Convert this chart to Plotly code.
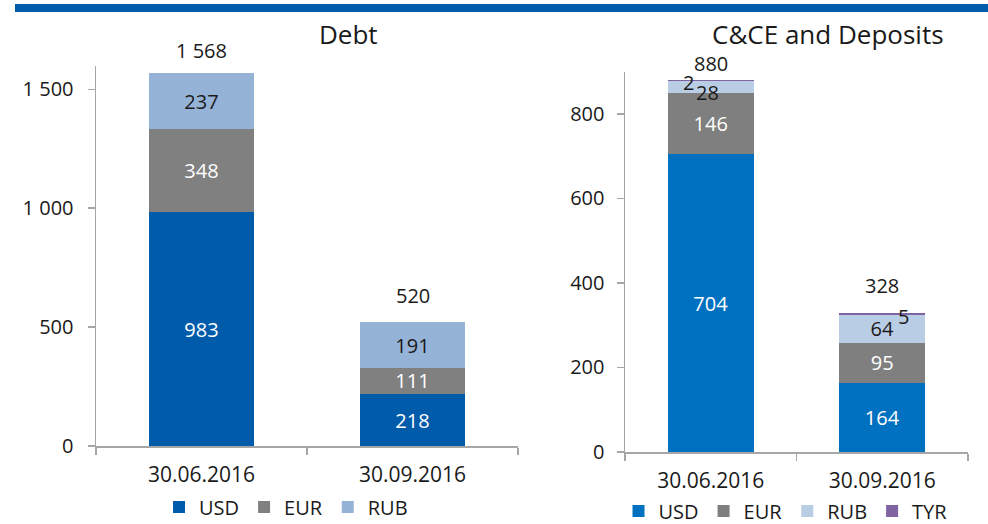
import plotly.graph_objects as go

# ---------------- data ----------------
categories = ["30.06.2016", "30.09.2016"]

debt_usd = [983, 218]
debt_eur = [348, 111]
debt_rub = [237, 191]

cce_usd = [704, 164]
cce_eur = [146, 95]
cce_rub = [28, 64]
cce_tyr = [2, 5]

debt_tickvals = [0, 500, 1000, 1500]
debt_ticktext = ["0", "500", "1 000", "1 500"]
cce_tickvals = [0, 200, 400, 600, 800]
cce_ticktext = ["0", "200", "400", "600", "800"]

titles = ["Debt", "C&CE and Deposits"]

# ---------------- styling ----------------
W, H = 988, 524
FONT = "Open Sans"
FS = 20
AXIS_COL = "#A6A6A6"
TXT = "#1A1A1A"

C_DEBT = {"USD": "#005BAA", "EUR": "#808080", "RUB": "#95B3D7"}
C_CCE = {"USD": "#0070C0", "EUR": "#7F7F7F", "RUB": "#B9CDE5", "TYR": "#8064A2"}


def fmt(v):
    return f"{v:,}".replace(",", " ")


def px_x(x):
    return x / W


def px_y(y):
    return 1 - y / H


fig = go.Figure()


def add_bar(name, vals, color, xa, ya, leg, txtcolor, show_text=None):
    if show_text is None:
        show_text = [True] * len(vals)
    fig.add_trace(go.Bar(
        name=name, x=categories, y=vals,
        marker=dict(color=color, line=dict(width=0)),
        text=[fmt(v) if s else "" for v, s in zip(vals, show_text)],
        textposition="inside", insidetextanchor="middle", textangle=0,
        constraintext="none",
        insidetextfont=dict(family=FONT, size=FS, color=txtcolor),
        xaxis=xa, yaxis=ya, legend=leg, hoverinfo="skip",
    ))


add_bar("USD", debt_usd, C_DEBT["USD"], "x", "y", "legend", "white")
add_bar("EUR", debt_eur, C_DEBT["EUR"], "x", "y", "legend", "white")
add_bar("RUB", debt_rub, C_DEBT["RUB"], "x", "y", "legend", TXT)

add_bar("USD", cce_usd, C_CCE["USD"], "x2", "y2", "legend2", "white")
add_bar("EUR", cce_eur, C_CCE["EUR"], "x2", "y2", "legend2", "white")
add_bar("RUB", cce_rub, C_CCE["RUB"], "x2", "y2", "legend2", TXT,
        show_text=[v >= 50 for v in cce_rub])
add_bar("TYR", cce_tyr, C_CCE["TYR"], "x2", "y2", "legend2", TXT,
        show_text=[False] * len(cce_tyr))

annotations = []
# totals
debt_tot = [a + b + c for a, b, c in zip(debt_usd, debt_eur, debt_rub)]
cce_tot = [a + b + c + d for a, b, c, d in zip(cce_usd, cce_eur, cce_rub, cce_tyr)]
for cat, t, sh in zip(categories, debt_tot, [23, 27]):
    annotations.append(dict(x=cat, y=t, xref="x", yref="y", text=fmt(t),
                            showarrow=False, yshift=sh, yanchor="middle",
                            font=dict(family=FONT, size=FS, color=TXT)))
for cat, t, sh in zip(categories, cce_tot, [17, 28]):
    annotations.append(dict(x=cat, y=t, xref="x2", yref="y2", text=fmt(t),
                            showarrow=False, yshift=sh, yanchor="middle",
                            font=dict(family=FONT, size=FS, color=TXT)))
# small segment labels
base_rub0 = cce_usd[0] + cce_eur[0]
annotations.append(dict(x=categories[0], y=base_rub0 + cce_rub[0] / 2, xref="x2", yref="y2",
                        text=fmt(cce_rub[0]), showarrow=False, yshift=-6, xshift=-3,
                        font=dict(family=FONT, size=FS, color=TXT)))
annotations.append(dict(x=categories[0], y=cce_tot[0] - cce_tyr[0] / 2, xref="x2", yref="y2",
                        text=fmt(cce_tyr[0]), showarrow=False, yshift=-2, xshift=-22,
                        font=dict(family=FONT, size=FS, color=TXT)))
annotations.append(dict(x=categories[1], y=cce_tot[1] - cce_tyr[1] / 2, xref="x2", yref="y2",
                        text=fmt(cce_tyr[1]), showarrow=False, yshift=-2, xshift=21,
                        font=dict(family=FONT, size=FS, color=TXT)))
# titles
for t, cx in zip(titles, [348, 828]):
    annotations.append(dict(x=px_x(cx), y=px_y(34), xref="paper", yref="paper",
                            text=t, showarrow=False, xanchor="center", yanchor="middle",
                            font=dict(family=FONT, size=26, color=TXT)))

axis_common = dict(showline=True, linecolor=AXIS_COL, linewidth=1.5,
                   ticks="outside", ticklen=7, tickcolor=AXIS_COL, tickwidth=1.5,
                   showgrid=False, zeroline=False, fixedrange=True)
yfont = dict(family=FONT, size=FS, color=TXT)
xfont = dict(family=FONT, size=21, color=TXT)

fig.update_layout(
    width=W, height=H,
    margin=dict(l=0, r=0, t=0, b=0, autoexpand=False),
    paper_bgcolor="white", plot_bgcolor="white",
    barmode="stack", bargap=0.5,
    font=dict(family=FONT, size=FS, color=TXT),
    xaxis=dict(domain=[px_x(96), px_x(518)], anchor="y", type="category",
               tickson="boundaries", ticklabelstandoff=9, tickfont=xfont, **axis_common),
    yaxis=dict(domain=[px_y(446), px_y(66)], anchor="x", range=[0, 1598],
               tickvals=debt_tickvals, ticktext=debt_ticktext,
               ticklabelstandoff=10, tickfont=yfont, **axis_common),
    xaxis2=dict(domain=[px_x(625), px_x(968)], anchor="y2", type="category",
                tickson="boundaries", ticklabelstandoff=9, tickfont=xfont, **axis_common),
    yaxis2=dict(domain=[px_y(452), px_y(72)], anchor="x2", range=[0, 899],
                tickvals=cce_tickvals, ticktext=cce_ticktext,
                ticklabelstandoff=8, tickfont=yfont, **axis_common),
    legend=dict(orientation="h", x=px_x(286), y=px_y(507), xanchor="center", yanchor="middle",
                font=dict(family=FONT, size=FS, color=TXT), bgcolor="rgba(0,0,0,0)",
                itemclick=False, itemdoubleclick=False, traceorder="normal"),
    legend2=dict(orientation="h", x=px_x(785.5), y=px_y(511), xanchor="center", yanchor="middle",
                 font=dict(family=FONT, size=FS, color=TXT), bgcolor="rgba(0,0,0,0)",
                 itemclick=False, itemdoubleclick=False, traceorder="normal"),
    annotations=annotations,
    shapes=[dict(type="rect", xref="paper", yref="paper",
                 x0=px_x(15), x1=1, y0=px_y(12), y1=px_y(4),
                 fillcolor="#005BAA", line=dict(width=0), layer="above")],
    showlegend=True,
)

fig.write_html(
    "out.html",
    config={"displayModeBar": False, "staticPlot": True},
    post_script="document.body.style.margin='0';document.body.style.overflow='hidden';",
)
